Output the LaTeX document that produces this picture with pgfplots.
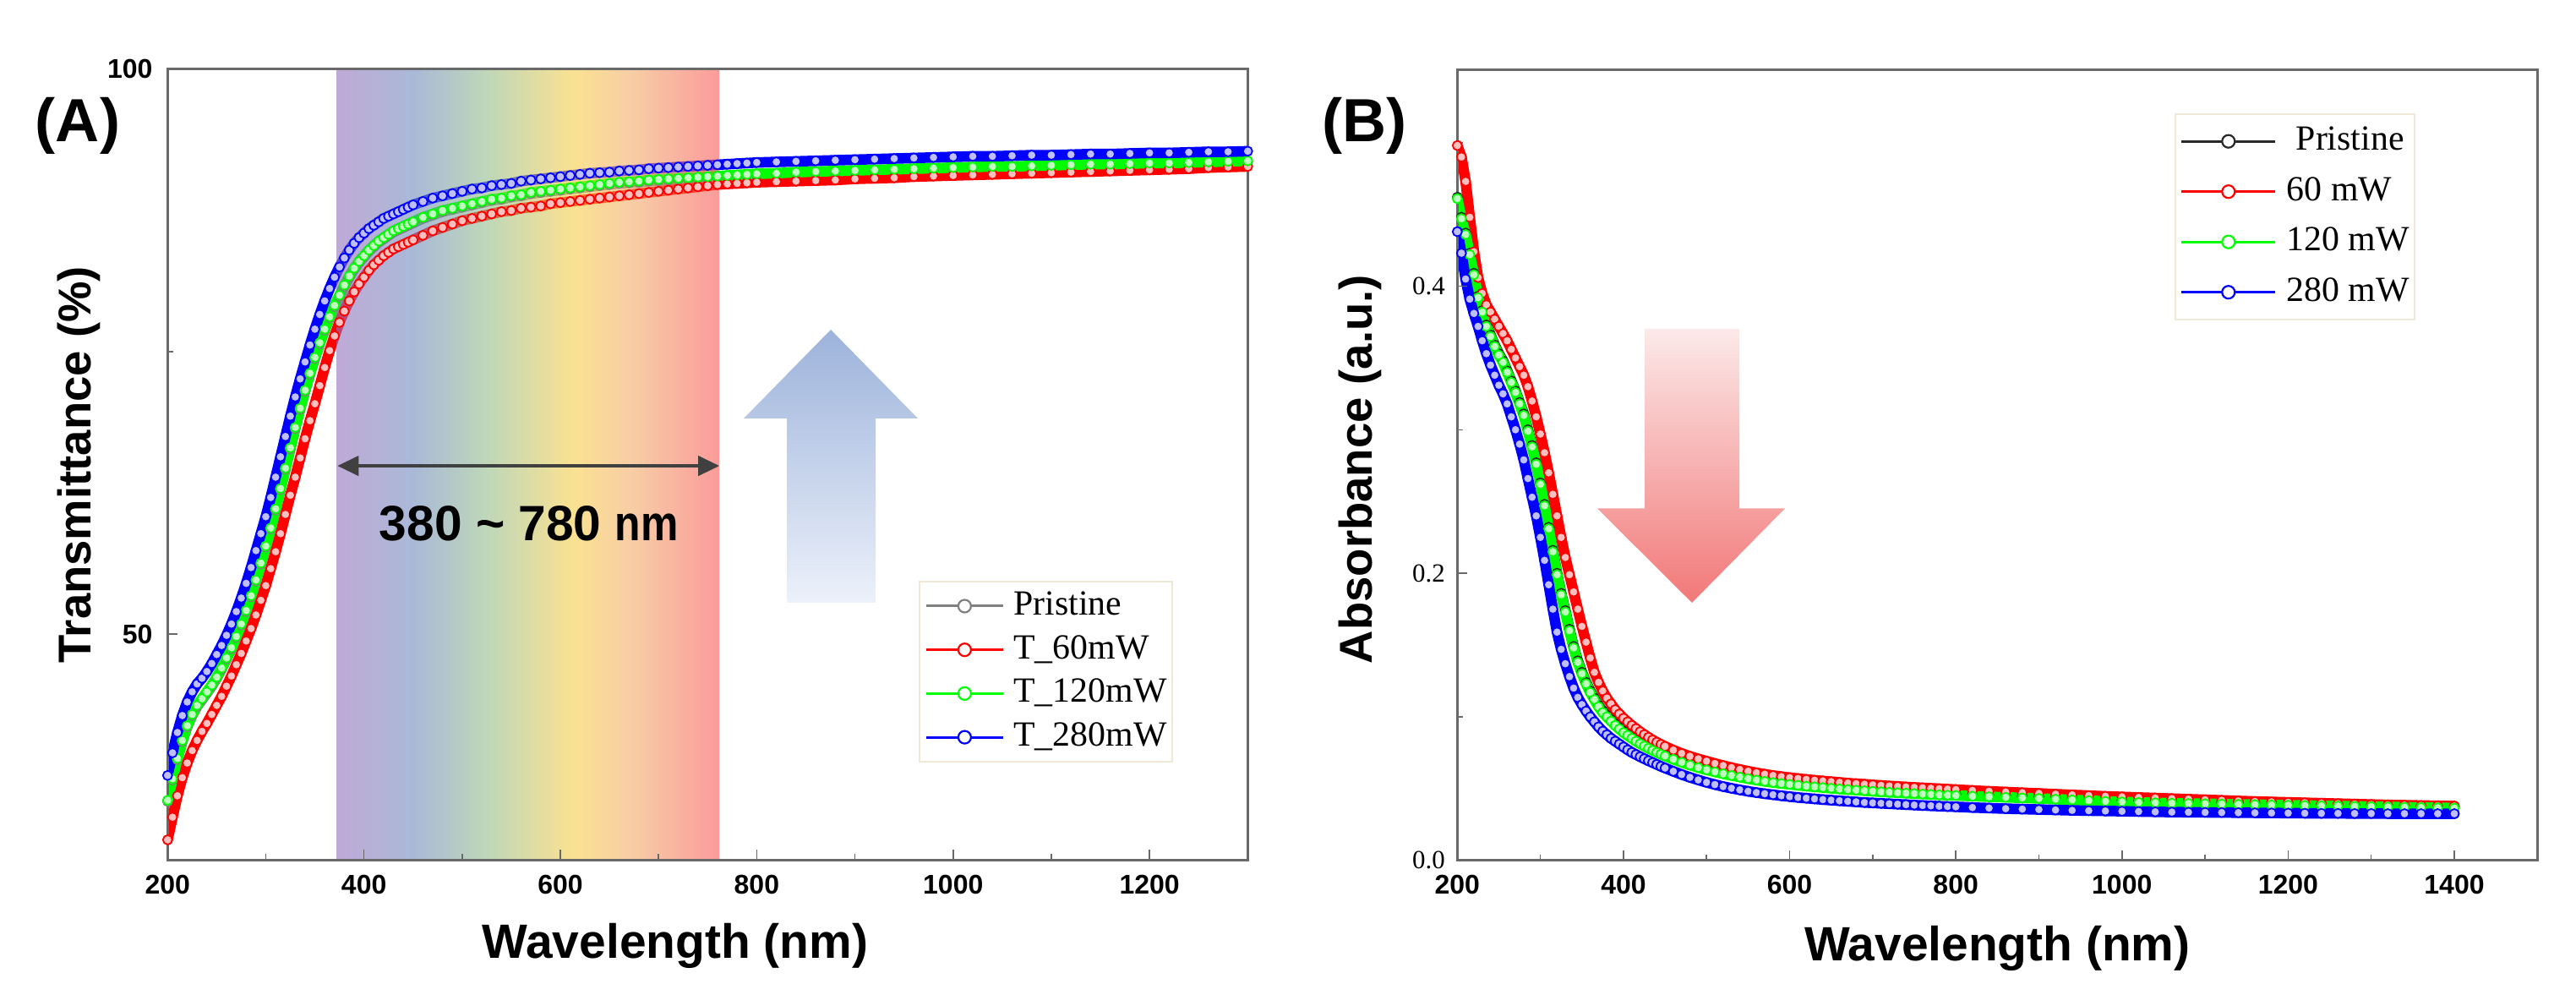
\documentclass[border=0pt]{standalone}
\usepackage{fontspec}
\setmainfont{Liberation Serif}
\newfontfamily\arialfont{Liberation Sans}
\usepackage{graphicx}
\usepackage{pgfplots}
\pgfplotsset{compat=1.18}
\usepackage{pgfplotstable}
\usetikzlibrary{arrows.meta}

\definecolor{axgray}{RGB}{105,105,105}
\definecolor{cP}{RGB}{128,128,128}
\definecolor{cPb}{RGB}{40,40,40}
\definecolor{cR}{RGB}{255,0,0}
\definecolor{cG}{RGB}{0,255,0}
\definecolor{cB}{RGB}{0,0,255}
\definecolor{legbd}{RGB}{240,232,215}
\definecolor{arrgray}{RGB}{64,64,64}
\definecolor{sp1}{RGB}{147,113,188}
\definecolor{sp2}{RGB}{113,138,188}
\definecolor{sp3}{RGB}{147,188,138}
\definecolor{sp4}{RGB}{247,205,72}
\definecolor{sp5}{RGB}{243,172,105}
\definecolor{sp6}{RGB}{247,88,88}
\definecolor{arrB1}{RGB}{157,179,219}
\definecolor{arrB2}{RGB}{236,241,250}
\definecolor{arrR1}{RGB}{252,233,233}
\definecolor{arrR2}{RGB}{242,120,120}
\pgfdeclarehorizontalshading{spectrum}{100bp}{color(0bp)=(sp1); color(25bp)=(sp1); color(35bp)=(sp2); color(44.5bp)=(sp3); color(56bp)=(sp4); color(63.5bp)=(sp5); color(75bp)=(sp6); color(100bp)=(sp6)}

\pgfplotstableread{
x P R G B
200 35.2 31.8 35.3 37.5
205 37.1 33.8 37.2 39.5
210 38.9 35.7 39.0 41.3
215 40.5 37.3 40.6 42.8
220 41.8 38.6 41.9 44.0
225 42.8 39.7 42.9 44.9
230 43.6 40.6 43.7 45.6
235 44.2 41.4 44.3 46.1
240 44.8 42.1 44.9 46.7
245 45.4 42.9 45.5 47.4
250 46.1 43.7 46.2 48.2
255 46.9 44.5 47.0 49.0
260 47.8 45.4 47.9 49.9
265 48.7 46.3 48.8 50.9
270 49.7 47.3 49.8 52.0
275 50.8 48.3 50.9 53.2
280 52.0 49.4 52.1 54.5
285 53.3 50.5 53.4 55.9
290 54.7 51.7 54.8 57.4
295 56.2 53.0 56.3 58.9
300 57.7 54.3 57.8 60.4
305 59.3 55.8 59.4 62.1
310 61.0 57.3 61.1 63.9
315 62.8 58.9 62.9 65.7
320 64.6 60.6 64.7 67.5
325 66.4 62.3 66.5 69.3
330 68.2 63.9 68.3 71.0
335 69.9 65.6 70.0 72.6
340 71.5 67.3 71.6 74.1
345 73.0 68.9 73.1 75.6
350 74.4 70.4 74.5 77.0
355 75.7 72.0 75.8 78.3
360 76.9 73.6 77.0 79.5
365 78.0 75.1 78.1 80.6
370 79.0 76.4 79.1 81.6
375 79.9 77.6 80.0 82.5
380 80.8 78.6 80.9 83.3
385 81.6 79.5 81.7 84.0
390 82.3 80.3 82.4 84.6
395 82.9 81.0 83.0 85.1
400 83.4 81.6 83.5 85.5
405 83.9 82.2 84.0 85.9
410 84.3 82.7 84.4 86.2
415 84.7 83.1 84.8 86.5
420 85.0 83.5 85.1 86.8
425 85.3 83.8 85.4 87.0
430 85.6 84.1 85.7 87.2
435 85.8 84.3 85.9 87.4
440 86.0 84.5 86.1 87.6
445 86.2 84.7 86.3 87.8
450 86.4 84.9 86.5 88.0
460 86.8 85.3 86.9 88.3
470 87.1 85.7 87.2 88.6
480 87.4 86.0 87.5 88.8
490 87.6 86.3 87.7 89.0
500 87.8 86.6 87.9 89.2
510 88.0 86.8 88.1 89.4
520 88.2 87.0 88.3 89.5
530 88.4 87.2 88.5 89.7
540 88.5 87.4 88.6 89.8
550 88.7 87.5 88.8 89.9
560 88.8 87.7 88.9 90.1
570 89.0 87.8 89.1 90.2
580 89.1 87.9 89.2 90.3
590 89.2 88.1 89.3 90.4
600 89.3 88.2 89.4 90.5
610 89.4 88.3 89.5 90.6
620 89.5 88.4 89.6 90.7
630 89.6 88.5 89.7 90.8
640 89.7 88.6 89.8 90.85
650 89.8 88.7 89.9 90.9
660 89.9 88.8 90.0 91.0
670 89.95 88.9 90.05 91.05
680 90.0 89.0 90.1 91.1
690 90.1 89.1 90.2 91.2
700 90.15 89.2 90.25 91.25
710 90.2 89.3 90.3 91.3
720 90.25 89.4 90.35 91.35
730 90.3 89.5 90.4 91.4
740 90.35 89.6 90.45 91.45
750 90.4 89.7 90.5 91.5
760 90.45 89.8 90.55 91.55
770 90.5 89.85 90.6 91.6
780 90.55 89.9 90.65 91.65
790 90.6 89.95 90.7 91.7
800 90.65 90.0 90.75 91.75
820 90.7 90.05 90.8 91.8
840 90.8 90.1 90.9 91.85
860 90.85 90.15 90.95 91.9
880 90.9 90.2 91.0 91.95
900 90.95 90.3 91.05 92.0
920 91.0 90.35 91.1 92.05
940 91.05 90.4 91.15 92.1
960 91.1 90.5 91.2 92.15
980 91.15 90.55 91.25 92.2
1000 91.2 90.6 91.3 92.25
1020 91.25 90.65 91.35 92.3
1040 91.3 90.7 91.4 92.3
1060 91.3 90.75 91.4 92.35
1080 91.35 90.8 91.45 92.4
1100 91.4 90.85 91.5 92.4
1120 91.45 90.9 91.55 92.45
1140 91.5 90.95 91.6 92.5
1160 91.5 91.0 91.6 92.5
1180 91.55 91.05 91.65 92.55
1200 91.6 91.1 91.7 92.6
1220 91.6 91.15 91.7 92.6
1240 91.65 91.2 91.75 92.65
1260 91.7 91.3 91.8 92.7
1280 91.75 91.35 91.85 92.7
1300 91.8 91.4 91.9 92.75
}\dataA

\pgfplotstableread{
x P R G B
200 0.462 0.498 0.461 0.438
205 0.448 0.490 0.447 0.423
210 0.437 0.473 0.436 0.405
215 0.423 0.448 0.422 0.391
220 0.409 0.424 0.408 0.381
225 0.393 0.406 0.392 0.372
230 0.383 0.395 0.382 0.362
235 0.373 0.387 0.372 0.353
240 0.366 0.382 0.365 0.345
245 0.359 0.377 0.358 0.338
250 0.353 0.372 0.352 0.331
255 0.348 0.367 0.347 0.325
260 0.341 0.362 0.340 0.318
265 0.334 0.356 0.333 0.309
270 0.327 0.350 0.326 0.300
275 0.319 0.344 0.318 0.290
280 0.311 0.338 0.310 0.279
285 0.300 0.330 0.299 0.266
290 0.289 0.320 0.288 0.253
295 0.277 0.309 0.276 0.240
300 0.263 0.297 0.262 0.225
305 0.248 0.284 0.247 0.209
310 0.232 0.270 0.231 0.192
315 0.216 0.255 0.215 0.175
320 0.200 0.240 0.199 0.159
325 0.186 0.225 0.185 0.147
330 0.174 0.211 0.173 0.137
335 0.161 0.199 0.160 0.128
340 0.149 0.187 0.148 0.120
345 0.139 0.175 0.138 0.1135
350 0.131 0.163 0.130 0.1085
355 0.124 0.152 0.123 0.104
360 0.118 0.141 0.117 0.100
365 0.113 0.131 0.112 0.0965
370 0.108 0.124 0.107 0.093
375 0.104 0.118 0.103 0.090
380 0.101 0.113 0.100 0.0875
385 0.098 0.109 0.097 0.085
390 0.095 0.105 0.094 0.083
395 0.0925 0.102 0.0915 0.081
400 0.090 0.099 0.089 0.079
405 0.088 0.0965 0.087 0.077
410 0.086 0.094 0.085 0.0752
415 0.084 0.0918 0.083 0.0737
420 0.0822 0.0896 0.0812 0.0722
425 0.0806 0.0876 0.0796 0.0708
430 0.0790 0.0857 0.0780 0.0694
435 0.0776 0.0839 0.0766 0.0681
440 0.0762 0.0823 0.0752 0.0668
445 0.0749 0.0808 0.0739 0.0655
450 0.0737 0.0794 0.0727 0.0643
460 0.0714 0.0768 0.0704 0.0620
470 0.0693 0.0745 0.0683 0.0598
480 0.0674 0.0725 0.0664 0.0578
490 0.0656 0.0707 0.0646 0.0560
500 0.0640 0.0691 0.0630 0.0543
510 0.0626 0.0675 0.0616 0.0528
520 0.0613 0.0660 0.0603 0.0514
530 0.0601 0.0646 0.0591 0.0502
540 0.0590 0.0633 0.0580 0.0491
550 0.0579 0.0621 0.0569 0.0481
560 0.0569 0.0610 0.0559 0.0472
570 0.0560 0.0600 0.0550 0.0464
580 0.0552 0.0591 0.0542 0.0457
590 0.0545 0.0583 0.0535 0.0450
600 0.0539 0.0576 0.0529 0.0444
610 0.0533 0.0570 0.0523 0.0438
620 0.0527 0.0564 0.0517 0.0433
630 0.0522 0.0558 0.0512 0.0428
640 0.0517 0.0553 0.0507 0.0423
650 0.0512 0.0548 0.0502 0.0419
660 0.0507 0.0543 0.0497 0.0415
670 0.0503 0.0538 0.0493 0.0411
680 0.0499 0.0534 0.0489 0.0407
690 0.0495 0.0530 0.0485 0.0403
700 0.0491 0.0526 0.0481 0.0400
710 0.0487 0.0522 0.0477 0.0397
720 0.0484 0.0518 0.0474 0.0394
730 0.0481 0.0515 0.0471 0.0391
740 0.0478 0.0511 0.0468 0.0388
750 0.0475 0.0508 0.0465 0.0385
760 0.0472 0.0505 0.0462 0.0382
770 0.0469 0.0502 0.0459 0.0380
780 0.0466 0.0499 0.0456 0.0377
790 0.0464 0.0496 0.0454 0.0375
800 0.0462 0.0493 0.0452 0.0373
820 0.0457 0.0487 0.0447 0.0368
840 0.0453 0.0481 0.0443 0.0364
860 0.0449 0.0476 0.0439 0.0360
880 0.0445 0.0471 0.0435 0.0357
900 0.0441 0.0466 0.0431 0.0354
920 0.0436 0.0461 0.0426 0.0351
940 0.0431 0.0456 0.0421 0.0348
960 0.0426 0.0451 0.0416 0.0346
980 0.0421 0.0446 0.0411 0.0344
1000 0.0417 0.0442 0.0407 0.0342
1020 0.0413 0.0438 0.0403 0.0340
1040 0.0411 0.0434 0.0401 0.0338
1060 0.0408 0.0430 0.0398 0.0336
1080 0.0406 0.0426 0.0396 0.0335
1100 0.0404 0.0422 0.0394 0.0334
1120 0.0402 0.0418 0.0392 0.0333
1140 0.0400 0.0414 0.0390 0.0332
1160 0.0398 0.0410 0.0388 0.0331
1180 0.0396 0.0407 0.0386 0.0330
1200 0.0394 0.0404 0.0384 0.0329
1220 0.0392 0.0401 0.0382 0.0328
1240 0.0390 0.0398 0.0380 0.0327
1260 0.0388 0.0395 0.0378 0.0327
1280 0.0386 0.0392 0.0376 0.0326
1300 0.0384 0.0389 0.0374 0.0326
1320 0.0382 0.0386 0.0372 0.0325
1340 0.0380 0.0384 0.0370 0.0325
1360 0.0378 0.0382 0.0368 0.0325
1380 0.0376 0.0380 0.0366 0.0325
1400 0.0374 0.0378 0.0364 0.0325
}\dataB

\pgfplotsset{
  panel/.style={scale only axis, width=127.8mm, height=93.55mm, anchor=south west,
    tick align=inside, tick pos=left, axis on top,
    major tick length=1.2mm, minor tick length=0.7mm,
    tick style={axgray, line width=0.15mm},
    axis line style={axgray, line width=0.3mm},
    ticklabel style={font=\arialfont\bfseries\fontsize{9.1}{10}\selectfont},
    /pgf/number format/assume math mode=true,
    /pgf/number format/1000 sep={},
    xlabel style={font=\arialfont\bfseries\fontsize{16.2}{18}\selectfont},
    ylabel style={font=\arialfont\bfseries\fontsize{15.5}{18}\selectfont},
    xticklabel style={yshift=-0.5mm},
    legend cell align=left,
  },
  dat/.style={color=#1, line width=1.25mm, line join=round, line cap=round, mark=*, mark size=0.55mm,
    mark options={line width=0.18mm, draw=#1, fill=#1!25!white}, forget plot},
  leg/.style={color=#1, line width=0.3mm, mark=*, mark size=0.75mm,
    mark options={fill=white, draw=#1, line width=0.22mm}},
}

\begin{document}
\begin{tikzpicture}
\useasboundingbox (0,0) rectangle (304.8mm,119mm);

\begin{axis}[panel, at={(19.83mm,17.25mm)},
  xmin=200, xmax=1300, ymin=30, ymax=100,
  xtick={200,400,...,1200}, minor xtick={300,500,...,1300},
  ytick={50,100}, minor ytick={75},
  yticklabel style={xshift=-0.55mm},
  xlabel={Wavelength (nm)}, ylabel={Transmittance (\%)},
  xlabel style={at={(axis description cs:0.47,-0.1085)}, anchor=center},
  ylabel style={at={(axis description cs:-0.0822,0.5)}, anchor=center},
  legend style={at={(axis description cs:0.6957,0.3533)}, anchor=north west,
    draw=legbd, line width=0.2mm, fill=white,
    font=\rmfamily\fontsize{11.9}{13}\selectfont,
    inner xsep=0.6mm, inner ysep=0.8mm, row sep=0.97mm, column sep=1.1mm,
    nodes={inner sep=0pt, text height=3.15mm, text depth=1.05mm}},
  legend image code/.code={\draw[mark repeat=2,mark phase=2,#1] plot coordinates {(0mm,0mm) (4.55mm,0mm) (9.1mm,0mm)};},
]
\addplot[dat=cP] table[x=x,y=P]{\dataA};
\addplot[dat=cR] table[x=x,y=R]{\dataA};
\addplot[dat=cG] table[x=x,y=G]{\dataA};
\addplot[dat=cB] table[x=x,y=B]{\dataA};
\shade[shading=spectrum, opacity=0.6] (axis cs:372.3,30) rectangle (axis cs:762,100);
\draw[{Triangle[length=2.5mm,width=2.3mm]}-{Triangle[length=2.5mm,width=2.3mm]}, line width=0.4mm, draw=arrgray, fill=arrgray] (axis cs:373,64.9) -- (axis cs:762,64.9);
\node[font=\arialfont\bfseries\fontsize{16.7}{18}\selectfont, anchor=center] at (axis cs:568,59.8) {380 \textasciitilde{} 780 \scalebox{0.85}[1]{nm}};
\addlegendimage{leg=cP}\addlegendentry{Pristine}
\addlegendimage{leg=cR}\addlegendentry{T\_60mW}
\addlegendimage{leg=cG}\addlegendentry{T\_120mW}
\addlegendimage{leg=cB}\addlegendentry{T\_280mW}
\end{axis}

\begin{axis}[panel, at={(172.43mm,17.23mm)},
  xmin=200, xmax=1500, ymin=0, ymax=0.551,
  xtick={200,400,...,1400}, minor xtick={300,500,...,1500},
  ytick={0,0.2,0.4}, minor ytick={0.1,0.3,0.5},
  yticklabel style={font=\rmfamily\fontsize{8.8}{10}\selectfont, xshift=-0.2mm,
    /pgf/number format/fixed, /pgf/number format/fixed zerofill, /pgf/number format/precision=1},
  xlabel={Wavelength (nm)}, ylabel={Absorbance (a.u.)},
  xlabel style={at={(axis description cs:0.5,-0.1115)}, anchor=center},
  ylabel style={at={(axis description cs:-0.090,0.4945)}, anchor=center},
  legend style={at={(axis description cs:0.6639,0.9444)}, anchor=north west,
    draw=legbd, line width=0.2mm, fill=white,
    font=\rmfamily\fontsize{11.9}{13}\selectfont,
    inner xsep=0.6mm, inner ysep=1.1mm, row sep=1.75mm, column sep=1.2mm,
    nodes={inner sep=0pt, text height=3.15mm, text depth=1.05mm}},
  legend image code/.code={\draw[mark repeat=2,mark phase=2,#1] plot coordinates {(0mm,0mm) (5.55mm,0mm) (11.1mm,0mm)};},
]
\addplot[dat=cPb] table[x=x,y=P]{\dataB};
\addplot[dat=cR] table[x=x,y=R]{\dataB};
\addplot[dat=cG] table[x=x,y=G]{\dataB};
\addplot[dat=cB] table[x=x,y=B]{\dataB};
\addlegendimage{leg=cPb}\addlegendentry{\hspace*{1.1mm}Pristine}
\addlegendimage{leg=cR}\addlegendentry{60 mW}
\addlegendimage{leg=cG}\addlegendentry{120 mW}
\addlegendimage{leg=cB}\addlegendentry{280 mW}
\end{axis}

% annotation arrows
\shade[top color=arrB1, bottom color=arrB2] (93.1mm,47.7mm) -- (93.1mm,69.5mm) -- (88.0mm,69.5mm) -- (98.3mm,80.0mm) -- (108.6mm,69.5mm) -- (103.6mm,69.5mm) -- (103.6mm,47.7mm) -- cycle;
\shade[top color=arrR1, bottom color=arrR2] (194.6mm,80.1mm) -- (194.6mm,58.85mm) -- (189.0mm,58.85mm) -- (200.2mm,47.7mm) -- (211.2mm,58.85mm) -- (205.8mm,58.85mm) -- (205.8mm,80.1mm) -- cycle;

\node[font=\arialfont\bfseries\fontsize{20.5}{24}\selectfont] at (9.2mm,104.1mm) {(A)};
\node[font=\arialfont\bfseries\fontsize{20.5}{24}\selectfont] at (161.45mm,104.1mm) {(B)};
\end{tikzpicture}
\end{document}
